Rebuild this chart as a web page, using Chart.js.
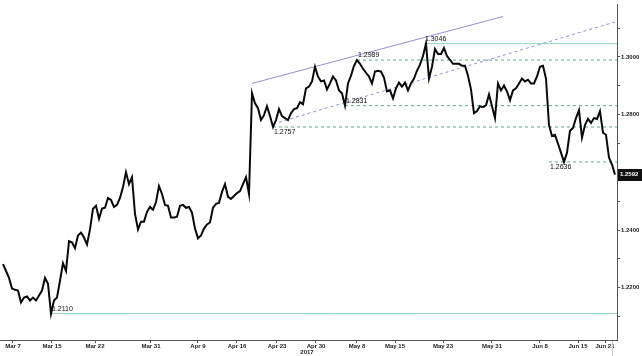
<!DOCTYPE html>
<html>
<head>
<meta charset="utf-8">
<script src="https://cdn.jsdelivr.net/npm/chart.js@4/dist/chart.umd.min.js"></script>
<style>
html,body{margin:0;padding:0;background:#fff;}
#wrap{width:642px;height:356px;position:relative;}
</style>
</head>
<body>
<div id="wrap"><canvas id="c" width="642" height="356"></canvas></div>
<script>
// x positions are sample indices (one sample every ~9 trading hours)
const xTickPositions = [3.33, 16.33, 30.67, 49.33, 65, 78, 91.33, 104.33, 118, 130.67, 146.67, 163, 179, 191.67, 200.67];
const xTickLabels = ['Mar 7','Mar 15','Mar 22','Mar 31','Apr 9','Apr 16','Apr 23','Apr 30','May 8','May 15','May 23','May 31','Jun 8','Jun 15','Jun 21'];
const yearLabel = '2017';
const yearLabelAt = 104.33;

const yTickValues = [1.21,1.22,1.23,1.24,1.25,1.26,1.27,1.28,1.29,1.30,1.31];
const yLabelledTicks = [1.22,1.24,1.28,1.30];

// GBP/USD close
const closes = [
1.2282,1.2258,1.2234,1.2197,1.2193,1.2190,1.2149,1.2166,1.2170,1.2156,
1.2166,1.2156,1.2173,1.2190,1.2234,1.2214,1.2110,1.2156,1.2166,1.2224,
1.2285,1.2258,1.2361,1.2357,1.2337,1.2381,1.2391,1.2374,1.2350,1.2402,
1.2474,1.2484,1.2439,1.2474,1.2477,1.2511,1.2504,1.2480,1.2487,1.2511,
1.2549,1.2600,1.2559,1.2583,1.2456,1.2402,1.2429,1.2429,1.2463,1.2480,
1.2470,1.2497,1.2552,1.2525,1.2487,1.2484,1.2443,1.2443,1.2446,1.2484,
1.2487,1.2477,1.2480,1.2460,1.2405,1.2371,1.2381,1.2405,1.2419,1.2426,
1.2477,1.2491,1.2494,1.2532,1.2559,1.2515,1.2508,1.2518,1.2528,1.2535,
1.2559,1.2583,1.2525,1.2874,1.2839,1.2822,1.2781,1.2798,1.2829,1.2795,
1.2757,1.2781,1.2819,1.2795,1.2788,1.2781,1.2805,1.2819,1.2822,1.2843,
1.2836,1.2891,1.2897,1.2915,1.2966,1.2932,1.2915,1.2918,1.2887,1.2908,
1.2932,1.2918,1.2884,1.2874,1.2831,1.2908,1.2935,1.2969,1.2989,1.2976,
1.2959,1.2945,1.2932,1.2908,1.2949,1.2952,1.2949,1.2928,1.2880,1.2884,
1.2856,1.2891,1.2911,1.2897,1.2911,1.2884,1.2908,1.2925,1.2952,1.2973,
1.3003,1.3046,1.2925,1.2966,1.3027,1.3010,1.3010,1.3031,1.3003,1.2990,
1.2976,1.2976,1.2976,1.2969,1.2969,1.2935,1.2887,1.2805,1.2812,1.2829,
1.2826,1.2832,1.2870,1.2829,1.2788,1.2908,1.2884,1.2901,1.2880,1.2850,
1.2884,1.2891,1.2908,1.2925,1.2915,1.2921,1.2908,1.2908,1.2932,1.2966,
1.2969,1.2925,1.2764,1.2726,1.2730,1.2699,1.2668,1.2636,1.2668,1.2744,
1.2754,1.2788,1.2815,1.2720,1.2764,1.2785,1.2771,1.2788,1.2785,1.2812,
1.2737,1.2730,1.2651,1.2627,1.2592
];

// support / resistance levels: value, first sample index, style
const levelValues = [1.3046, 1.2989, 1.2831, 1.2757, 1.2636, 1.2110];
const levelStarts = [140.3, 118, 114, 90, 182, 16];
const levelDashed = [false, true, true, true, true, false];
const levelTextBelow = [false, false, false, true, true, false];

// trend channel lines (sample index, value)
const trendUpper = [{x:83, y:1.2908}, {x:166.7, y:1.3140}];
const trendLower = [{x:90, y:1.27675}, {x:204.67, y:1.31231}];

const lastValue = 1.2592;

const X_MIN = -1, X_MAX = 204.67;
const Y_MIN = 1.20188, Y_MAX = 1.31812;

const datasets = [];
datasets.push({
  data: closes.map((v,i)=>({x:i, y:v})),
  borderColor:'#0a0a0a', borderWidth:2, pointRadius:0, tension:0, order:0
});
levelValues.forEach((v,k)=>{
  datasets.push({
    data:[{x:levelStarts[k], y:v},{x:X_MAX, y:v}],
    borderColor: levelDashed[k] ? '#4db584' : '#8fd6b5',
    borderDash: levelDashed[k] ? [3,3] : [],
    borderWidth:1, pointRadius:0, order:2
  });
});
datasets.push({data:trendUpper, borderColor:'#9590d6', borderWidth:1, pointRadius:0, order:1});
datasets.push({data:trendLower, borderColor:'#9590d6', borderWidth:1, borderDash:[3,3], pointRadius:0, order:1});

const annot = {
  id:'annot',
  afterDatasetsDraw(chart){
    const ctx = chart.ctx, xs = chart.scales.x, ys = chart.scales.y;
    ctx.save();
    ctx.font = '7px "Liberation Sans", Arial, sans-serif';
    ctx.fillStyle = '#111';
    ctx.textAlign = 'left';
    levelValues.forEach((v,k)=>{
      const px = xs.getPixelForValue(levelStarts[k]) + 1;
      const py = ys.getPixelForValue(v);
      if (levelTextBelow[k]) { ctx.textBaseline='top'; ctx.fillText(v.toFixed(4), px, py+2); }
      else { ctx.textBaseline='bottom'; ctx.fillText(v.toFixed(4), px, py-1); }
    });
    // last value box
    const ly = ys.getPixelForValue(lastValue);
    ctx.fillStyle = '#111';
    ctx.fillRect(618, Math.round(ly)-6, 24, 12);
    ctx.fillStyle = '#fff';
    ctx.font = 'bold 6px "Liberation Sans", Arial, sans-serif';
    ctx.textBaseline = 'middle';
    ctx.fillText(lastValue.toFixed(4), 620, ly);
    // year label
    ctx.fillStyle = '#222';
    ctx.textAlign = 'center';
    ctx.textBaseline = 'top';
    ctx.font = 'bold 6px "Liberation Sans", Arial, sans-serif';
    ctx.fillText(yearLabel, xs.getPixelForValue(yearLabelAt) - 9, chart.chartArea.bottom + 9);
    // small marker below axis end
    ctx.strokeStyle = '#ccc';
    ctx.lineWidth = 1;
    ctx.beginPath();
    ctx.moveTo(612.5, chart.chartArea.bottom+1); ctx.lineTo(612.5, 356);
    ctx.stroke();
    ctx.restore();
  }
};

new Chart(document.getElementById('c'), {
  type:'line',
  data:{datasets},
  options:{
    responsive:false, animation:false, devicePixelRatio:1,
    layout:{padding:0},
    plugins:{legend:{display:false}, tooltip:{enabled:false}},
    scales:{
      x:{
        type:'linear', min:X_MIN, max:X_MAX, position:'bottom',
        grid:{drawOnChartArea:false, drawTicks:true, tickLength:3, color:'#555'},
        border:{display:true, color:'#555', width:1},
        afterBuildTicks(scale){ scale.ticks = xTickPositions.map(v=>({value:v})); },
        ticks:{
          autoSkip:false, maxRotation:0, minRotation:0, padding:0,
          font:{size:6, weight:'bold', family:'"Liberation Sans", Arial, sans-serif'}, color:'#222',
          callback(value, index){ return xTickLabels[index]; }
        },
        afterFit(scale){ scale.height = 16; }
      },
      y:{
        type:'linear', min:Y_MIN, max:Y_MAX, position:'right',
        grid:{drawOnChartArea:false, drawTicks:true, tickLength:3, color:'#555'},
        border:{display:true, color:'#555', width:1},
        afterBuildTicks(scale){ scale.ticks = yTickValues.map(v=>({value:v})); },
        ticks:{
          autoSkip:false, padding:1,
          font:{size:6, weight:'bold', family:'"Liberation Sans", Arial, sans-serif'}, color:'#222',
          callback(value){
            const hit = yLabelledTicks.some(t=>Math.abs(t-value)<1e-6);
            return hit ? value.toFixed(4) : '';
          }
        },
        afterFit(scale){ scale.width = 25; }
      }
    }
  },
  plugins:[annot]
});
</script>
</body>
</html>
